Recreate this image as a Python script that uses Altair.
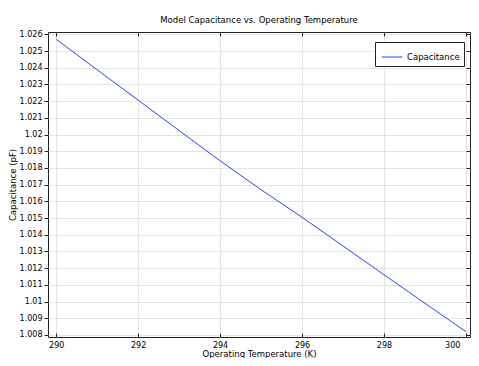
import altair as alt
import pandas as pd

temperature = [290, 291, 292, 293, 294, 295, 296, 297, 298, 299, 300]
capacitance = [1.02570, 1.02388, 1.02206, 1.02024, 1.01843, 1.01670,
               1.01505, 1.01333, 1.01161, 1.00990, 1.00820]
series = ["Capacitance"] * len(temperature)
x_ticks = [290, 292, 294, 296, 298, 300]
y_ticks = [1.008, 1.009, 1.010, 1.011, 1.012, 1.013, 1.014, 1.015, 1.016,
           1.017, 1.018, 1.019, 1.020, 1.021, 1.022, 1.023, 1.024, 1.025, 1.026]

df = pd.DataFrame({"T": temperature, "C": capacitance, "s": series})

FONT = "DejaVu Sans"
xscale = alt.Scale(domain=[289.8, 300.1], nice=False, zero=False)
yscale = alt.Scale(domain=[1.00788, 1.02614], nice=False, zero=False)

main = alt.Chart(df).mark_line(strokeWidth=1, clip=True).encode(
    x=alt.X("T:Q", scale=xscale, title="Operating Temperature (K)",
            axis=alt.Axis(values=x_ticks, tickSize=0, grid=True, gridColor="#e4e4e4",
                          domain=False, labelPadding=4, titlePadding=0,
                          labelFlush=5, labelFlushOffset=-6)),
    y=alt.Y("C:Q", scale=yscale, title="Capacitance (pF)",
            axis=alt.Axis(values=y_ticks, format=".4~f", tickSize=4, tickColor="#222",
                          grid=True, gridColor="#e4e4e4", domain=False,
                          labelPadding=2, titleX=-40, titleBaseline="top")),
    color=alt.Color("s:N", scale=alt.Scale(domain=["Capacitance"], range=["#2f3fff"]),
                    legend=alt.Legend(title=None, orient="none", legendX=327, legendY=10,
                                      symbolType="stroke", symbolSize=420, symbolStrokeWidth=1,
                                      symbolOffset=2, labelOffset=4,
                                      strokeColor="#222", fillColor="white", padding=4,
                                      labelFontSize=8.5, labelFont=FONT, labelColor="black",
                                      cornerRadius=0)),
)

inner_tr = alt.Chart(df).mark_line(opacity=0).encode(
    x=alt.X("T:Q", scale=xscale, title=None,
            axis=alt.Axis(orient="top", values=x_ticks, labels=False, grid=False, domain=False,
                          tickSize=4, offset=-4, tickColor="#222")),
    y=alt.Y("C:Q", scale=yscale, title=None,
            axis=alt.Axis(orient="right", values=y_ticks, labels=False, grid=False, domain=False,
                          tickSize=4, offset=-4, tickColor="#222")),
)

inner_b = alt.Chart(df).mark_line(opacity=0).encode(
    x=alt.X("T:Q", scale=xscale, title=None,
            axis=alt.Axis(orient="bottom", values=x_ticks, labels=False, grid=False, domain=False,
                          tickSize=4, offset=-4, tickColor="#222")),
    y=alt.Y("C:Q", scale=yscale, axis=None),
)

chart = alt.layer(main, inner_tr, inner_b).resolve_axis(
    x="independent", y="independent"
).properties(
    width=422, height=305,
    autosize=alt.AutoSizeParams(type="none"),
    padding={"left": 40, "top": 24, "right": 1, "bottom": 21},
    title=alt.Title("Model Capacitance vs. Operating Temperature", fontSize=8.5,
                    font=FONT, fontWeight="normal", color="black", offset=6),
).configure_view(
    stroke="#222", strokeWidth=1
).configure_axis(
    labelFont=FONT, titleFont=FONT, labelFontSize=8, titleFontSize=8.5,
    labelColor="black", titleColor="black", titleFontWeight="normal"
)

chart.save("out.html", embed_options={"renderer": "svg", "actions": False})
